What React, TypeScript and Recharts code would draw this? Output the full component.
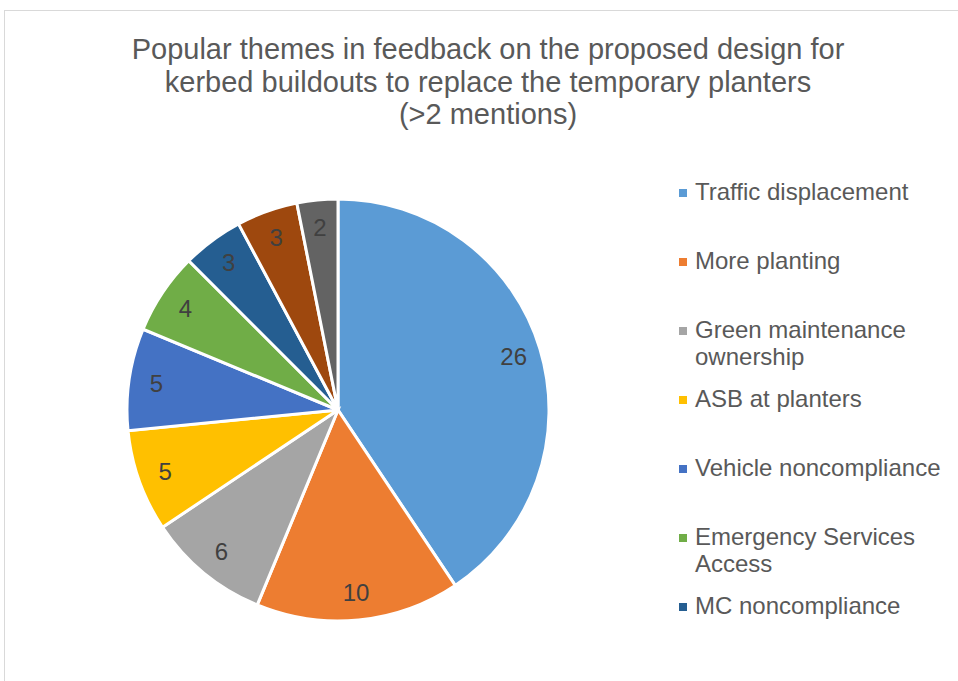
import { PieChart, Pie, Cell } from "recharts";

const themes = [
  "Traffic displacement",
  "More planting",
  "Green maintenance ownership",
  "ASB at planters",
  "Vehicle noncompliance",
  "Emergency Services Access",
  "MC noncompliance",
  "Other theme",
  "Other theme (2)",
];
const mentions = [26, 10, 6, 5, 5, 4, 3, 3, 2];
const colors = [
  "#5B9BD5", "#ED7D31", "#A5A5A5", "#FFC000", "#4472C4",
  "#70AD47", "#255E91", "#9E480E", "#636363",
];
const titleLines = [
  "Popular themes in feedback on the proposed design for",
  "kerbed buildouts to replace the temporary planters",
  "(>2 mentions)",
];

const data = themes.map((name, i) => ({ name, value: mentions[i] }));
const RAD = Math.PI / 180;
const font = "'Liberation Sans', Arial, sans-serif";

function renderLabel(props: any) {
  const { cx, cy, midAngle, outerRadius, value } = props;
  const r = outerRadius * 0.87;
  const x = cx + r * Math.cos(-midAngle * RAD);
  const y = cy + r * Math.sin(-midAngle * RAD);
  return (
    <text x={x} y={y} fill="#404040" fontSize={24} fontFamily={font}
      textAnchor="middle" dominantBaseline="central">
      {value}
    </text>
  );
}

export default function App() {
  // Excel only had room for the first 7 legend entries
  const legendItems = themes.slice(0, 7);
  return (
    <div style={{ position: "fixed", left: 0, top: 0, width: 958, height: 681, background: "#fff", overflow: "hidden" }}>
      <div style={{
        position: "absolute", left: 4, top: 10, width: 1000, height: 800,
        border: "1px solid #D9D9D9",
      }} />
      <div style={{
        position: "absolute", left: 0, top: 33, width: 976, textAlign: "center",
        fontFamily: font, fontSize: 29, lineHeight: "32.5px", color: "#595959",
      }}>
        {titleLines.map((t) => <div key={t}>{t}</div>)}
      </div>
      <div style={{ position: "absolute", left: 0, top: 0 }}>
        <PieChart width={958} height={681}>
          <Pie
            data={data} dataKey="value" nameKey="name"
            cx={333} cy={405} outerRadius={211}
            startAngle={90} endAngle={-270}
            stroke="#fff" strokeWidth={3}
            label={renderLabel} labelLine={false}
            isAnimationActive={false}
          >
            {data.map((d, i) => <Cell key={d.name} fill={colors[i]} />)}
          </Pie>
        </PieChart>
      </div>
      <div style={{ position: "absolute", left: 679, top: 178, fontFamily: font }}>
        {legendItems.map((name, i) => (
          <div key={name} style={{ position: "relative", height: 69, width: 275 }}>
            <span style={{
              position: "absolute", left: 0, top: 11, width: 8, height: 8,
              background: colors[i],
            }} />
            <div style={{
              position: "absolute", left: 16, top: 0, width: 258,
              fontSize: 24, lineHeight: "27px", color: "#595959",
            }}>
              {name}
            </div>
          </div>
        ))}
      </div>
    </div>
  );
}
